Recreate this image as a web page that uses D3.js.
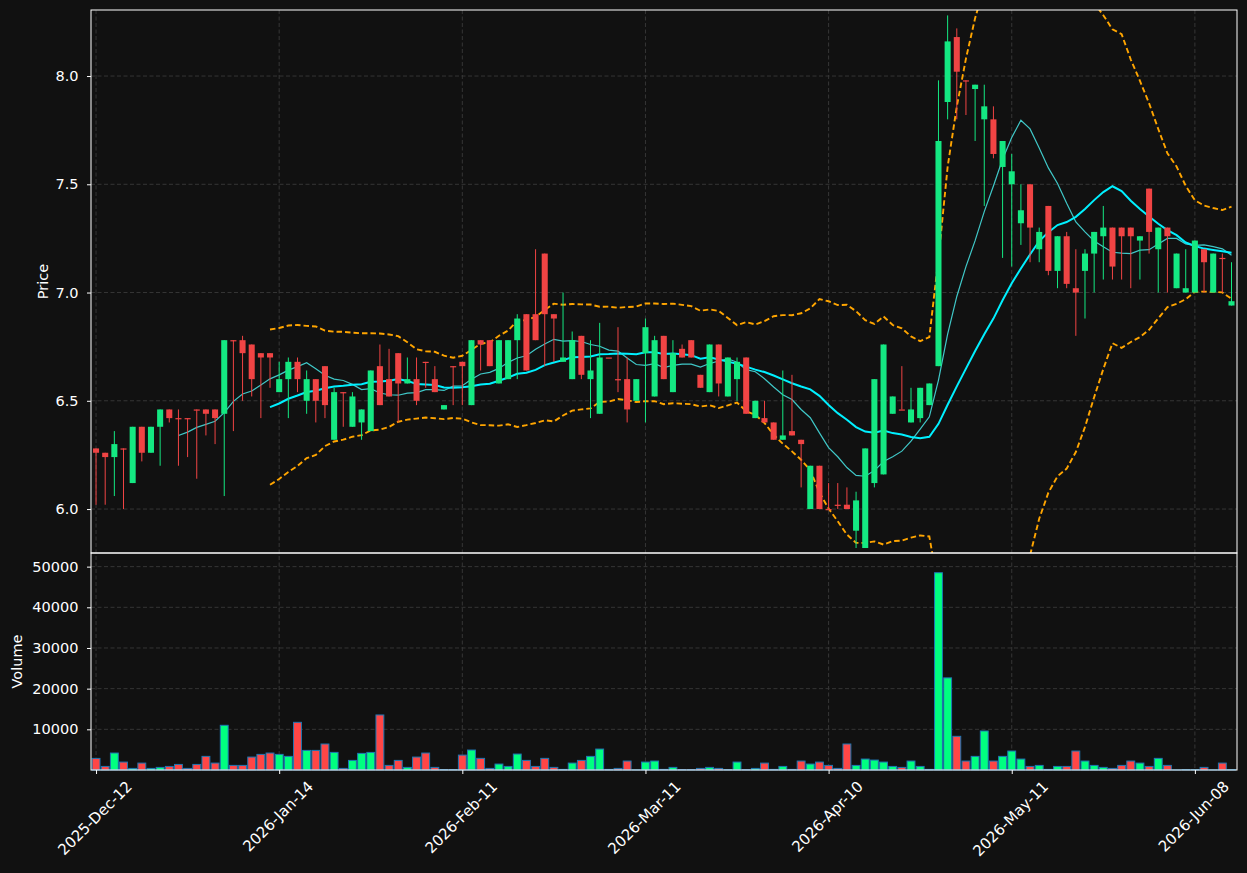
<!DOCTYPE html>
<html>
<head>
<meta charset="utf-8">
<script src="https://cdn.jsdelivr.net/npm/d3@7"></script>
<style>
  html, body { margin: 0; padding: 0; background: #111111; }
  svg text { font-family: "DejaVu Sans", sans-serif; }
</style>
</head>
<body>
<svg id="chart" width="1247" height="873"></svg>
<script>
// daily bars (index based x axis like mplfinance)
var opens = [6.28,6.26,6.24,6.28,6.12,6.38,6.26,6.38,6.46,6.42,
  6.42,6.46,6.46,6.46,6.44,6.78,6.78,6.76,6.72,6.72,
  6.54,6.60,6.68,6.50,6.60,6.66,6.32,6.54,6.38,6.40,
  6.36,6.66,6.60,6.72,6.58,6.60,6.68,6.60,6.46,6.66,
  6.68,6.48,6.78,6.78,6.58,6.60,6.78,6.90,6.90,7.18,
  6.90,6.68,6.60,6.80,6.60,6.44,6.70,6.60,6.60,6.50,
  6.72,6.52,6.80,6.54,6.74,6.78,6.62,6.54,6.76,6.52,
  6.60,6.70,6.42,6.42,6.40,6.32,6.36,6.32,6.00,6.20,
  6.00,6.02,6.02,5.90,5.82,6.12,6.16,6.44,6.46,6.40,
  6.42,6.48,6.66,7.88,8.18,7.98,7.94,7.80,7.80,7.58,
  7.50,7.32,7.50,7.20,7.40,7.10,7.26,7.02,7.10,7.18,
  7.26,7.30,7.30,7.30,7.24,7.48,7.20,7.30,7.02,7.00,
  7.00,7.20,7.00,7.16,6.94];
var highs = [6.28,6.26,6.36,6.28,6.38,6.38,6.38,6.46,6.46,6.46,
  6.42,6.46,6.46,6.46,6.78,6.78,6.80,6.76,6.72,6.72,
  6.68,6.70,6.70,6.64,6.60,6.66,6.56,6.54,6.54,6.46,
  6.64,6.76,6.74,6.72,6.70,6.70,6.68,6.66,6.48,6.66,
  6.68,6.78,6.78,6.78,6.78,6.78,6.90,6.90,7.20,7.18,
  6.90,7.00,6.82,6.80,6.78,6.86,6.70,6.84,6.70,6.60,
  6.88,6.80,6.80,6.78,6.76,6.78,6.62,6.76,6.76,6.70,
  6.70,6.70,6.50,6.50,6.40,6.64,6.62,6.32,6.20,6.20,
  6.12,6.12,6.10,6.08,6.28,6.60,6.76,6.52,6.66,6.56,
  6.56,6.58,7.98,8.28,8.22,7.98,7.96,7.96,7.86,7.70,
  7.64,7.50,7.50,7.30,7.40,7.26,7.28,7.20,7.20,7.28,
  7.40,7.30,7.30,7.30,7.26,7.48,7.30,7.30,7.18,7.20,
  7.24,7.20,7.18,7.18,7.14];
var lows = [6.02,6.02,6.06,6.00,6.12,6.22,6.26,6.20,6.40,6.20,
  6.24,6.14,6.34,6.30,6.06,6.36,6.50,6.52,6.42,6.56,
  6.54,6.42,6.54,6.44,6.40,6.42,6.32,6.38,6.38,6.32,
  6.36,6.48,6.52,6.40,6.58,6.48,6.56,6.54,6.46,6.48,
  6.48,6.48,6.64,6.66,6.58,6.60,6.60,6.64,6.78,6.66,
  6.68,6.68,6.60,6.60,6.42,6.44,6.70,6.54,6.40,6.50,
  6.40,6.52,6.60,6.54,6.70,6.70,6.56,6.54,6.52,6.52,
  6.50,6.44,6.42,6.40,6.32,6.32,6.34,6.10,6.00,6.00,
  6.00,6.00,6.00,5.82,5.82,6.10,6.16,6.44,6.46,6.40,
  6.40,6.48,6.66,7.80,7.80,7.82,7.70,7.40,7.62,7.16,
  7.12,7.22,7.14,7.14,7.08,7.02,7.02,6.80,6.88,7.00,
  7.06,7.06,7.06,7.02,7.06,7.18,7.00,7.00,7.02,7.00,
  7.00,7.00,7.00,7.00,6.94];
var closes = [6.26,6.24,6.30,6.278,6.38,6.26,6.38,6.46,6.42,6.418,
  6.418,6.458,6.44,6.42,6.78,6.778,6.72,6.60,6.70,6.70,
  6.60,6.68,6.60,6.60,6.50,6.48,6.54,6.538,6.52,6.46,
  6.64,6.48,6.52,6.58,6.60,6.50,6.678,6.54,6.48,6.658,
  6.66,6.78,6.76,6.66,6.78,6.78,6.88,6.64,6.78,6.90,
  6.88,6.70,6.78,6.62,6.64,6.70,6.698,6.598,6.46,6.60,
  6.84,6.78,6.60,6.72,6.70,6.70,6.56,6.76,6.58,6.70,
  6.68,6.44,6.50,6.40,6.32,6.34,6.34,6.30,6.20,6.00,
  5.998,6.018,6.00,6.04,6.28,6.60,6.76,6.52,6.458,6.46,
  6.56,6.58,7.70,8.16,8.02,7.978,7.96,7.86,7.64,7.70,
  7.56,7.38,7.30,7.28,7.10,7.26,7.04,7.00,7.18,7.28,
  7.30,7.12,7.26,7.26,7.26,7.28,7.30,7.26,7.18,7.02,
  7.24,7.14,7.18,7.158,6.96];
var volumes = [2850,880,4170,1950,390,1700,390,640,880,1370,
  390,1370,3350,1700,10990,1130,1130,3180,3840,4170,
  3840,3350,11720,4820,4820,6390,4330,390,2360,4090,
  4330,13530,1130,2360,640,3180,4170,640,120,120,
  3660,4910,2860,390,1460,880,3920,2360,880,2860,
  640,150,1700,2360,3350,5150,150,390,2200,40,
  1950,2200,150,640,100,100,390,640,390,100,
  1950,100,390,1700,150,880,150,2200,1460,1950,
  1130,390,6390,1130,2690,2440,1950,880,640,2200,
  880,150,48500,22650,8280,2200,3350,9590,2200,3350,
  4660,2690,880,1130,150,880,880,4660,2200,1130,
  640,390,1130,2200,1700,880,2860,1130,30,100,
  100,640,30,1700,100];

var tickIndex = [0, 20, 40, 60, 80, 100, 120];
var tickLabels = ["2025-Dec-12","2026-Jan-14","2026-Feb-11","2026-Mar-11","2026-Apr-10","2026-May-11","2026-Jun-08"];
var priceTicks = [6.0, 6.5, 7.0, 7.5, 8.0];
var volTicks = [10000, 20000, 30000, 40000, 50000];

var upCol = "#14e882", downCol = "#f04444";
var volUp = "#00ff80", volDown = "#ff4646";

var svg = d3.select("#chart");
var left = 91, right = 1237, mainTop = 10, mainBot = 553, volBot = 770;

var n = closes.length;
var x = d3.scaleLinear().domain([-0.55, n - 0.4]).range([left, right]);
var y = d3.scaleLinear().domain([5.797, 8.305]).range([mainBot, mainTop]);
var yv = d3.scaleLinear().domain([0, d3.max(volumes) * 1.1]).range([volBot, mainBot]);
var step = x(1) - x(0);

svg.append("rect").attr("width", 1247).attr("height", 873).attr("fill", "#111111");

svg.append("defs").append("clipPath").attr("id", "clipMain")
  .append("rect").attr("x", left).attr("y", mainTop)
  .attr("width", right - left).attr("height", mainBot - mainTop);

// grid
var grid = svg.append("g").attr("stroke", "#3a3a3a").attr("stroke-width", 0.9)
  .attr("stroke-dasharray", "4,2.5");
grid.selectAll(".gy").data(priceTicks).enter().append("line")
  .attr("x1", left).attr("x2", right)
  .attr("y1", d => y(d)).attr("y2", d => y(d));
grid.selectAll(".gv").data(volTicks).enter().append("line")
  .attr("x1", left).attr("x2", right)
  .attr("y1", d => yv(d)).attr("y2", d => yv(d));
grid.selectAll(".gx").data(tickIndex).enter().append("line")
  .attr("x1", d => x(d)).attr("x2", d => x(d))
  .attr("y1", mainTop).attr("y2", volBot);

// indicators
var idx = d3.range(n);
function rolling(w, fn) {
  return idx.map(i => i < w - 1 ? null : fn(closes.slice(i - w + 1, i + 1)));
}
var ma10 = rolling(10, d3.mean);
var ma20 = rolling(20, d3.mean);
var sd20 = rolling(20, d3.deviation);
var bbUp = ma20.map((m, i) => m == null ? null : m + 2 * sd20[i]);
var bbLo = ma20.map((m, i) => m == null ? null : m - 2 * sd20[i]);

var line = d3.line().defined(d => d[1] != null).x(d => x(d[0])).y(d => y(d[1]));
var lines = svg.append("g").attr("clip-path", "url(#clipMain)").attr("fill", "none");

// candles
var candles = svg.append("g").attr("clip-path", "url(#clipMain)");
var cg = candles.selectAll("g").data(idx).enter().append("g")
  .attr("fill", i => closes[i] >= opens[i] ? upCol : downCol)
  .attr("stroke", i => closes[i] >= opens[i] ? upCol : downCol);
cg.append("line")
  .attr("x1", i => x(i)).attr("x2", i => x(i))
  .attr("y1", i => y(highs[i])).attr("y2", i => y(lows[i]))
  .attr("stroke-width", 1);
cg.append("rect")
  .attr("stroke", "none")
  .attr("x", i => x(i) - step * 0.33)
  .attr("width", step * 0.66)
  .attr("y", i => y(Math.max(opens[i], closes[i])))
  .attr("height", i => Math.max(1.2, Math.abs(y(opens[i]) - y(closes[i]))));

lines.append("path").datum(idx.map(i => [i, ma10[i]]))
  .attr("d", line).attr("stroke", "#40c8c8").attr("stroke-width", 1.2);
lines.append("path").datum(idx.map(i => [i, ma20[i]]))
  .attr("d", line).attr("stroke", "#00f0ff").attr("stroke-width", 2);
[bbUp, bbLo].forEach(function(b) {
  lines.append("path").datum(idx.map(i => [i, b[i]]))
    .attr("d", line).attr("stroke", "#ffa500").attr("stroke-width", 1.9)
    .attr("stroke-dasharray", "5.5,3");
});

// volume
svg.append("g").selectAll("rect").data(idx).enter().append("rect")
  .attr("x", i => x(i) - step * 0.43)
  .attr("width", step * 0.86)
  .attr("y", i => yv(volumes[i]))
  .attr("height", i => volBot - yv(volumes[i]))
  .attr("fill", i => closes[i] >= opens[i] ? volUp : volDown)
  .attr("stroke", "#1f77b4").attr("stroke-width", 1);

// spines
svg.append("rect").attr("x", left).attr("y", mainTop)
  .attr("width", right - left).attr("height", mainBot - mainTop)
  .attr("fill", "none").attr("stroke", "#ffffff").attr("stroke-width", 1);
svg.append("rect").attr("x", left).attr("y", mainBot)
  .attr("width", right - left).attr("height", volBot - mainBot)
  .attr("fill", "none").attr("stroke", "#ffffff").attr("stroke-width", 1);

// axes
function styleAxis(g, size) {
  g.select(".domain").remove();
  g.selectAll(".tick line").attr("stroke", "#ffffff");
  g.selectAll(".tick text").attr("fill", "#ffffff").attr("font-size", size)
    .attr("font-family", "DejaVu Sans");
}
svg.append("g").attr("transform", "translate(" + left + ",0)")
  .call(d3.axisLeft(y).tickValues(priceTicks).tickFormat(d3.format(".1f")).tickSize(4).tickPadding(8.5))
  .call(styleAxis, 14.5);
svg.append("g").attr("transform", "translate(" + left + ",0)")
  .call(d3.axisLeft(yv).tickValues(volTicks).tickFormat(d3.format("d")).tickSize(4).tickPadding(8.5))
  .call(styleAxis, 14.5);
var xa = svg.append("g").attr("transform", "translate(0," + volBot + ")")
  .call(d3.axisBottom(x).tickValues(tickIndex).tickFormat((d, i) => tickLabels[i]).tickSize(4))
  .call(styleAxis, 15);
xa.selectAll(".tick text").each(function() {
  var t = d3.select(this);
  var L = this.getComputedTextLength();
  var half = (L + 11) * Math.SQRT1_2 / 2;
  t.attr("text-anchor", "middle").attr("dy", null).attr("y", null)
    .attr("dominant-baseline", "central")
    .attr("transform", "translate(-1.5," + (10 + half) + ") rotate(-45)");
});

svg.append("text").text("Price").attr("fill", "#ffffff").attr("font-size", 14.5)
  .attr("text-anchor", "middle")
  .attr("transform", "translate(48," + (mainTop + mainBot) / 2 + ") rotate(-90)");
svg.append("text").text("Volume").attr("fill", "#ffffff").attr("font-size", 14.5)
  .attr("text-anchor", "middle")
  .attr("transform", "translate(22," + (mainBot + volBot) / 2 + ") rotate(-90)");
</script>
</body>
</html>
